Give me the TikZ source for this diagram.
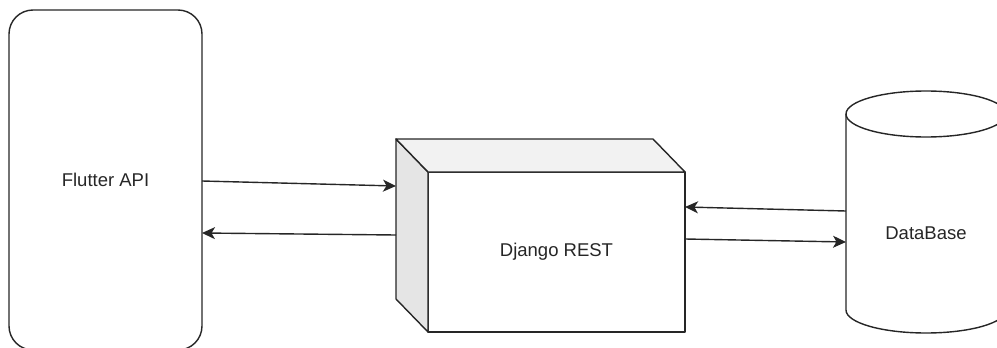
\documentclass[tikz,border=0pt]{standalone}
\usepackage{fontspec}
\setmainfont{Liberation Sans}
\usetikzlibrary{arrows.meta,calc}
\begin{document}
\begin{tikzpicture}[x=1pt,y=-1pt,line width=1.4pt,
		face/.style={draw=black!85,line join=round,inner sep=0pt,outer sep=0pt},
		txt/.style={text=black!85,font=\fontsize{18.5}{22}\selectfont},
		link/.style={draw=black!85,-{Stealth[length=13pt,width=12pt,inset=3.5pt]}}]
				\path[use as bounding box,clip] (0,0) rectangle (997,348);
				\node[face,txt,rounded corners=24pt,minimum width=193pt,minimum height=340pt] (flutter) at (105.5,180) {Flutter API};
				\node[face,txt,fill=white,minimum width=257pt,minimum height=160pt] (django) at (556.5,252) {Django REST};
				\node[inner sep=0pt,outer sep=0pt,minimum width=257pt,minimum height=160pt] (djangoback) at ($(django)+(-32,-33)$) {};
				\draw[face,fill=black!10] (djangoback.north west) to (django.north west) to (django.south west) to (djangoback.south west) to cycle;
				\draw[face,fill=black!5] (djangoback.north west) to (djangoback.north east) to (django.north east) to (django.north west) to cycle;
				\node[inner sep=0pt,outer sep=0pt,minimum width=160pt,minimum height=196pt] (db) at (926,212) {};
				\draw[face,fill=white] (db.north west) to (db.south west) arc[start angle=180,end angle=360,x radius=80pt,y radius=23pt] to (db.north east) arc[start angle=0,end angle=180,x radius=80pt,y radius=23pt] to cycle;
				\draw[face] (db.north west) arc[start angle=180,end angle=360,x radius=80pt,y radius=23pt];
				\node[txt] (dblabel) at ($(db)+(0,21)$) {DataBase};
				\draw[link] ($(flutter.east)+(0,1)$) to ($(djangoback.west)+(0,-33)$);
				\draw[link] ($(djangoback.west)+(0,16)$) to ($(flutter.east)+(0,53)$);
				\draw[link] ($(db.west)+(0,-1)$) to ($(django.east)+(0,-45)$);
				\draw[link] ($(django.east)+(0,-13)$) to ($(db.west)+(0,30)$);
			\end{tikzpicture}
\end{document}
